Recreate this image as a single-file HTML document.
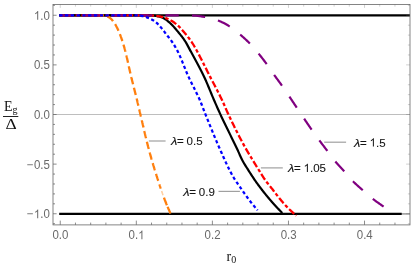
<!DOCTYPE html>
<html><head><meta charset="utf-8"><title>plot</title>
<style>
html,body{margin:0;padding:0;background:#fff;}
body{width:415px;height:267px;overflow:hidden;font-family:"Liberation Sans",sans-serif;}
svg{display:block;will-change:transform;}
text{font-family:"Liberation Sans",sans-serif;}
.ser text{font-family:"Liberation Serif",serif;}
</style></head><body>
<svg width="415" height="267" viewBox="0 0 415 267">
<rect x="0" y="0" width="415" height="267" fill="#ffffff"/>
<defs><clipPath id="co"><rect x="98" y="0" width="200" height="267"/></clipPath><clipPath id="cp"><rect x="53.0" y="4.5" width="357.0" height="220.4"/></clipPath></defs>
<!-- zero and -1 gray lines -->
<g stroke="#bebebe" stroke-width="1" fill="none">
<line x1="53.0" y1="114.5" x2="410.0" y2="114.5"/>
<line x1="401" y1="213.9" x2="410.0" y2="213.9" stroke="#a0a0a0" stroke-width="1.6"/>
</g>
<g clip-path="url(#cp)" fill="none" stroke-linecap="butt" stroke-linejoin="round">
<line x1="59.2" y1="15.4" x2="410.0" y2="15.4" stroke="#000" stroke-width="2.3"/>
<line x1="59.2" y1="213.9" x2="401.7" y2="213.9" stroke="#000" stroke-width="2.3"/>
<path d="M59.20 15.40 L142.00 15.30 L142.84 15.30 L143.69 15.31 L144.53 15.31 L145.38 15.32 L146.22 15.33 L147.06 15.34 L147.91 15.36 L148.75 15.37 L149.59 15.39 L150.43 15.41 L151.28 15.45 L152.12 15.51 L152.96 15.58 L153.80 15.67 L154.64 15.76 L155.47 15.86 L156.31 15.99 L157.15 16.14 L157.99 16.32 L158.82 16.53 L159.65 16.75 L160.46 16.99 L161.26 17.25 L162.04 17.53 L162.79 17.82 L163.53 18.16 L164.26 18.55 L164.98 18.99 L165.69 19.46 L166.38 19.97 L167.07 20.50 L167.74 21.05 L168.40 21.61 L169.05 22.17 L169.69 22.73 L170.31 23.27 L170.92 23.84 L171.53 24.42 L172.12 25.01 L172.70 25.62 L173.27 26.25 L173.84 26.88 L174.40 27.52 L174.95 28.16 L175.50 28.81 L176.05 29.46 L176.59 30.11 L177.13 30.76 L177.67 31.41 L178.21 32.05 L178.75 32.70 L179.29 33.36 L179.83 34.01 L180.36 34.67 L180.89 35.33 L181.41 36.00 L181.93 36.67 L182.44 37.34 L182.94 38.02 L183.44 38.70 L183.92 39.39 L184.39 40.08 L184.86 40.78 L185.31 41.49 L185.75 42.20 L186.18 42.92 L186.60 43.65 L187.01 44.39 L187.41 45.13 L187.81 45.88 L188.21 46.63 L188.60 47.37 L189.00 48.12 L189.39 48.87 L189.79 49.61 L190.19 50.36 L190.60 51.10 L191.00 51.84 L191.41 52.58 L191.81 53.32 L192.22 54.06 L192.63 54.80 L193.03 55.53 L193.44 56.27 L193.85 57.01 L194.25 57.75 L194.66 58.50 L195.06 59.24 L195.47 59.98 L195.87 60.72 L196.28 61.46 L196.68 62.20 L197.08 62.94 L197.48 63.69 L197.88 64.43 L198.28 65.18 L198.67 65.92 L199.07 66.67 L199.46 67.41 L199.85 68.16 L200.24 68.91 L200.62 69.66 L201.01 70.41 L201.39 71.16 L201.77 71.91 L202.14 72.67 L202.52 73.42 L202.89 74.18 L203.25 74.93 L203.62 75.69 L203.98 76.45 L204.33 77.22 L204.69 77.98 L205.04 78.75 L205.38 79.51 L205.72 80.28 L206.06 81.05 L206.40 81.83 L206.73 82.60 L207.06 83.38 L207.39 84.15 L207.72 84.93 L208.05 85.71 L208.37 86.49 L208.69 87.27 L209.02 88.05 L209.34 88.83 L209.66 89.61 L209.98 90.39 L210.30 91.17 L210.62 91.95 L210.94 92.73 L211.26 93.51 L211.59 94.29 L211.91 95.07 L212.23 95.85 L212.56 96.63 L212.89 97.41 L213.22 98.18 L213.55 98.96 L213.88 99.73 L214.22 100.51 L214.56 101.28 L214.89 102.05 L215.23 102.82 L215.57 103.60 L215.91 104.37 L216.25 105.14 L216.59 105.91 L216.93 106.69 L217.27 107.46 L217.61 108.23 L217.95 109.00 L218.30 109.77 L218.64 110.54 L218.99 111.31 L219.34 112.07 L219.69 112.84 L220.04 113.61 L220.39 114.38 L220.74 115.14 L221.10 115.91 L221.45 116.67 L221.81 117.43 L222.17 118.20 L222.53 118.96 L222.89 119.72 L223.25 120.48 L223.62 121.24 L223.98 122.00 L224.35 122.76 L224.72 123.52 L225.08 124.28 L225.45 125.04 L225.82 125.80 L226.19 126.55 L226.56 127.31 L226.93 128.07 L227.30 128.83 L227.67 129.58 L228.05 130.34 L228.42 131.10 L228.79 131.86 L229.16 132.61 L229.54 133.37 L229.91 134.13 L230.28 134.88 L230.65 135.64 L231.03 136.40 L231.40 137.15 L231.77 137.91 L232.14 138.67 L232.51 139.42 L232.88 140.18 L233.25 140.94 L233.62 141.70 L233.99 142.46 L234.36 143.21 L234.73 143.97 L235.09 144.73 L235.46 145.49 L235.82 146.25 L236.19 147.01 L236.55 147.78 L236.91 148.54 L237.27 149.30 L237.63 150.06 L237.98 150.83 L238.33 151.60 L238.68 152.37 L239.02 153.14 L239.36 153.92 L239.70 154.69 L240.04 155.46 L240.39 156.23 L240.74 157.00 L241.09 157.76 L241.46 158.52 L241.83 159.28 L242.21 160.02 L242.61 160.76 L243.01 161.50 L243.42 162.23 L243.85 162.96 L244.28 163.69 L244.71 164.41 L245.15 165.13 L245.60 165.85 L246.05 166.57 L246.50 167.28 L246.95 167.99 L247.41 168.71 L247.86 169.42 L248.32 170.13 L248.77 170.84 L249.22 171.55 L249.68 172.26 L250.13 172.97 L250.58 173.68 L251.04 174.39 L251.50 175.10 L251.96 175.81 L252.42 176.52 L252.88 177.22 L253.35 177.93 L253.82 178.63 L254.29 179.33 L254.77 180.02 L255.24 180.72 L255.73 181.41 L256.21 182.10 L256.70 182.78 L257.19 183.46 L257.69 184.14 L258.19 184.82 L258.69 185.50 L259.19 186.18 L259.70 186.86 L260.20 187.53 L260.71 188.20 L261.23 188.87 L261.74 189.54 L262.26 190.21 L262.78 190.88 L263.30 191.54 L263.82 192.20 L264.35 192.86 L264.88 193.52 L265.41 194.18 L265.94 194.83 L266.48 195.49 L267.01 196.14 L267.55 196.79 L268.09 197.44 L268.63 198.08 L269.17 198.73 L269.72 199.37 L270.26 200.01 L270.81 200.65 L271.36 201.28 L271.92 201.92 L272.47 202.55 L273.03 203.18 L273.60 203.81 L274.16 204.43 L274.73 205.06 L275.30 205.68 L275.87 206.30 L276.44 206.92 L277.02 207.53 L277.60 208.15 L278.18 208.76 L278.76 209.37 L279.34 209.98 L279.93 210.59 L280.52 211.19 L281.11 211.80 L281.70 212.40 L282.30 213.00" stroke="#000" stroke-width="2.2"/>
<path clip-path="url(#co)" d="M59.20 15.40 L96.00 15.30 L96.37 15.30 L96.74 15.30 L97.11 15.30 L97.48 15.31 L97.85 15.31 L98.21 15.31 L98.58 15.32 L98.95 15.33 L99.32 15.33 L99.68 15.34 L100.05 15.35 L100.42 15.36 L100.78 15.36 L101.15 15.37 L101.52 15.39 L101.88 15.40 L102.25 15.41 L102.62 15.43 L102.99 15.47 L103.36 15.51 L103.72 15.56 L104.09 15.61 L104.46 15.68 L104.82 15.75 L105.18 15.82 L105.54 15.89 L105.89 15.97 L106.23 16.06 L106.58 16.16 L106.93 16.29 L107.28 16.43 L107.62 16.58 L107.97 16.74 L108.30 16.92 L108.63 17.11 L108.95 17.30 L109.27 17.50 L109.57 17.70 L109.86 17.90 L110.14 18.11 L110.42 18.32 L110.69 18.55 L110.95 18.79 L111.21 19.04 L111.47 19.30 L111.73 19.56 L111.97 19.84 L112.22 20.12 L112.46 20.41 L112.70 20.70 L112.93 21.00 L113.16 21.30 L113.39 21.61 L113.61 21.92 L113.83 22.23 L114.04 22.54 L114.25 22.85 L114.46 23.16 L114.66 23.47 L114.86 23.78 L115.05 24.08 L115.24 24.39 L115.43 24.70 L115.62 25.01 L115.80 25.33 L115.98 25.64 L116.16 25.97 L116.33 26.29 L116.51 26.61 L116.67 26.94 L116.84 27.27 L117.01 27.60 L117.17 27.94 L117.33 28.27 L117.49 28.61 L117.65 28.94 L117.80 29.28 L117.95 29.62 L118.11 29.95 L118.26 30.29 L118.41 30.63 L118.55 30.97 L118.70 31.31 L118.85 31.64 L118.99 31.98 L119.14 32.32 L119.28 32.66 L119.42 33.00 L119.56 33.33 L119.70 33.68 L119.83 34.02 L119.97 34.36 L120.10 34.70 L120.23 35.05 L120.36 35.39 L120.49 35.73 L120.62 36.08 L120.75 36.42 L120.88 36.77 L121.00 37.12 L121.13 37.46 L121.25 37.81 L121.37 38.16 L121.49 38.51 L121.61 38.85 L121.73 39.20 L121.85 39.55 L121.97 39.90 L122.08 40.25 L122.20 40.59 L122.31 40.94 L122.43 41.29 L122.54 41.64 L122.65 41.99 L122.76 42.34 L122.88 42.69 L122.99 43.04 L123.10 43.40 L123.20 43.75 L123.31 44.10 L123.42 44.45 L123.53 44.80 L123.63 45.16 L123.74 45.51 L123.84 45.86 L123.94 46.21 L124.05 46.57 L124.15 46.92 L124.25 47.28 L124.35 47.63 L124.45 47.98 L124.55 48.34 L124.65 48.69 L124.74 49.05 L124.84 49.40 L124.93 49.76 L125.03 50.11 L125.12 50.47 L125.22 50.82 L125.31 51.18 L125.40 51.53 L125.49 51.89 L125.58 52.24 L125.67 52.60 L125.76 52.96 L125.85 53.31 L125.94 53.67 L126.03 54.03 L126.11 54.38 L126.20 54.74 L126.28 55.10 L126.37 55.45 L126.45 55.81 L126.54 56.17 L126.62 56.53 L126.71 56.88 L126.79 57.24 L126.87 57.60 L126.96 57.96 L127.04 58.32 L127.12 58.68 L127.20 59.03 L127.28 59.39 L127.36 59.75 L127.44 60.11 L127.52 60.47 L127.60 60.83 L127.68 61.19 L127.76 61.55 L127.84 61.91 L127.92 62.27 L128.00 62.62 L128.08 62.98 L128.16 63.34 L128.24 63.70 L128.32 64.06 L128.39 64.42 L128.47 64.78 L128.55 65.14 L128.63 65.50 L128.71 65.86 L128.79 66.22 L128.87 66.58 L128.94 66.94 L129.02 67.30 L129.10 67.66 L129.18 68.02 L129.26 68.38 L129.34 68.74 L129.42 69.09 L129.50 69.45 L129.58 69.81 L129.66 70.17 L129.74 70.53 L129.82 70.89 L129.90 71.25 L129.98 71.61 L130.06 71.97 L130.14 72.33 L130.22 72.68 L130.31 73.04 L130.39 73.40 L130.47 73.76 L130.55 74.12 L130.64 74.48 L130.72 74.83 L130.81 75.19 L130.89 75.55 L130.98 75.91 L131.06 76.26 L131.15 76.62 L131.24 76.98 L131.32 77.34 L131.41 77.69 L131.50 78.05 L131.58 78.41 L131.67 78.76 L131.76 79.12 L131.85 79.48 L131.94 79.84 L132.02 80.19 L132.11 80.55 L132.20 80.91 L132.29 81.26 L132.38 81.62 L132.47 81.98 L132.56 82.33 L132.65 82.69 L132.74 83.05 L132.83 83.40 L132.92 83.76 L133.01 84.12 L133.10 84.47 L133.19 84.83 L133.28 85.18 L133.37 85.54 L133.46 85.90 L133.55 86.25 L133.64 86.61 L133.73 86.97 L133.82 87.32 L133.91 87.68 L134.00 88.04 L134.09 88.39 L134.18 88.75 L134.27 89.10 L134.37 89.46 L134.46 89.82 L134.55 90.17 L134.64 90.53 L134.73 90.89 L134.82 91.24 L134.91 91.60 L135.00 91.96 L135.09 92.31 L135.18 92.67 L135.27 93.02 L135.36 93.38 L135.45 93.74 L135.54 94.09 L135.63 94.45 L135.72 94.81 L135.81 95.16 L135.90 95.52 L135.99 95.88 L136.07 96.23 L136.16 96.59 L136.25 96.95 L136.34 97.31 L136.43 97.66 L136.52 98.02 L136.60 98.38 L136.69 98.73 L136.78 99.09 L136.87 99.45 L136.95 99.80 L137.04 100.16 L137.13 100.52 L137.21 100.88 L137.30 101.23 L137.38 101.59 L137.47 101.95 L137.55 102.31 L137.64 102.66 L137.72 103.02 L137.81 103.38 L137.89 103.74 L137.98 104.10 L138.06 104.45 L138.15 104.81 L138.23 105.17 L138.32 105.53 L138.40 105.89 L138.48 106.24 L138.57 106.60 L138.65 106.96 L138.73 107.32 L138.82 107.68 L138.90 108.03 L138.99 108.39 L139.07 108.75 L139.15 109.11 L139.24 109.47 L139.32 109.82 L139.40 110.18 L139.49 110.54 L139.57 110.90 L139.66 111.26 L139.74 111.61 L139.82 111.97 L139.91 112.33 L139.99 112.69 L140.08 113.04 L140.16 113.40 L140.25 113.76 L140.33 114.12 L140.42 114.48 L140.50 114.83 L140.59 115.19 L140.67 115.55 L140.76 115.91 L140.84 116.26 L140.93 116.62 L141.01 116.98 L141.10 117.34 L141.18 117.70 L141.26 118.05 L141.35 118.41 L141.43 118.77 L141.52 119.13 L141.60 119.49 L141.68 119.84 L141.77 120.20 L141.85 120.56 L141.94 120.92 L142.02 121.28 L142.10 121.63 L142.19 121.99 L142.27 122.35 L142.35 122.71 L142.44 123.07 L142.52 123.43 L142.60 123.78 L142.69 124.14 L142.77 124.50 L142.85 124.86 L142.94 125.22 L143.02 125.58 L143.10 125.93 L143.19 126.29 L143.27 126.65 L143.36 127.01 L143.44 127.37 L143.52 127.72 L143.61 128.08 L143.69 128.44 L143.77 128.80 L143.86 129.16 L143.94 129.52 L144.02 129.87 L144.11 130.23 L144.19 130.59 L144.28 130.95 L144.36 131.31 L144.45 131.66 L144.53 132.02 L144.61 132.38 L144.70 132.74 L144.78 133.10 L144.87 133.45 L144.95 133.81 L145.04 134.17 L145.12 134.53 L145.21 134.89 L145.29 135.24 L145.38 135.60 L145.46 135.96 L145.55 136.32 L145.64 136.67 L145.72 137.03 L145.81 137.39 L145.90 137.75 L145.98 138.10 L146.07 138.46 L146.16 138.82 L146.24 139.17 L146.33 139.53 L146.42 139.89 L146.50 140.25 L146.59 140.60 L146.68 140.96 L146.77 141.32 L146.86 141.67 L146.95 142.03 L147.04 142.39 L147.12 142.74 L147.21 143.10 L147.30 143.46 L147.39 143.81 L147.48 144.17 L147.57 144.53 L147.66 144.88 L147.76 145.24 L147.85 145.59 L147.94 145.95 L148.03 146.31 L148.12 146.66 L148.21 147.02 L148.31 147.37 L148.40 147.73 L148.49 148.08 L148.59 148.44 L148.68 148.79 L148.77 149.15 L148.87 149.50 L148.96 149.86 L149.06 150.21 L149.15 150.57 L149.25 150.92 L149.34 151.28 L149.44 151.63 L149.54 151.99 L149.63 152.34 L149.73 152.70 L149.83 153.05 L149.93 153.40 L150.02 153.76 L150.12 154.11 L150.22 154.47 L150.32 154.82 L150.42 155.18 L150.52 155.53 L150.62 155.88 L150.72 156.24 L150.82 156.59 L150.92 156.94 L151.02 157.30 L151.12 157.65 L151.22 158.01 L151.32 158.36 L151.42 158.71 L151.52 159.07 L151.63 159.42 L151.73 159.77 L151.83 160.13 L151.93 160.48 L152.04 160.83 L152.14 161.18 L152.24 161.54 L152.35 161.89 L152.45 162.24 L152.56 162.60 L152.66 162.95 L152.77 163.30 L152.87 163.65 L152.98 164.01 L153.08 164.36 L153.19 164.71 L153.29 165.06 L153.40 165.42 L153.50 165.77 L153.61 166.12 L153.72 166.47 L153.82 166.82 L153.93 167.18 L154.04 167.53 L154.15 167.88 L154.25 168.23 L154.36 168.58 L154.47 168.94 L154.58 169.29 L154.69 169.64 L154.79 169.99 L154.90 170.34 L155.01 170.69 L155.12 171.04 L155.23 171.40 L155.34 171.75 L155.45 172.10 L155.56 172.45 L155.67 172.80 L155.78 173.15 L155.89 173.50 L156.00 173.85 L156.11 174.20 L156.22 174.55 L156.33 174.90 L156.44 175.25 L156.55 175.60 L156.67 175.95 L156.78 176.30 L156.89 176.65 L157.00 177.00 L157.11 177.35 L157.22 177.70 L157.34 178.05 L157.45 178.40 L157.56 178.75 L157.67 179.10 L157.79 179.45 L157.90 179.80 L158.01 180.15 L158.12 180.50 L158.24 180.85 L158.35 181.20 L158.46 181.55 L158.58 181.90 L158.69 182.25 L158.80 182.60 L158.92 182.95 L159.03 183.30 L159.15 183.65 L159.26 184.00 L159.38 184.35 L159.49 184.70 L159.61 185.05 L159.72 185.40 L159.84 185.75 L159.95 186.10 L160.07 186.45 L160.18 186.80 L160.30 187.15 L160.42 187.50 L160.53 187.85 L160.65 188.20 L160.77 188.55" stroke="#ff7f0e" stroke-width="2.3" stroke-dasharray="7.45 3.65" stroke-dashoffset="7.2"/>
<path d="M163.94 197.57 L164.06 197.91 L164.19 198.26 L164.32 198.60 L164.45 198.95 L164.58 199.29 L164.70 199.64 L164.83 199.98 L164.96 200.32 L165.10 200.67 L165.23 201.01 L165.36 201.35 L165.49 201.69 L165.62 202.04 L165.76 202.38 L165.89 202.72 L166.02 203.06 L166.16 203.40 L166.30 203.74 L166.43 204.08 L166.57 204.42 L166.71 204.76 L166.85 205.10 L166.99 205.44 L167.14 205.78 L167.28 206.12 L167.42 206.46 L167.57 206.79 L167.71 207.13 L167.86 207.47 L168.01 207.80 L168.16 208.14 L168.31 208.48 L168.45 208.81 L168.61 209.15 L168.76 209.49 L168.91 209.82 L169.06 210.16 L169.21 210.49 L169.36 210.83 L169.52 211.16 L169.67 211.50 L169.83 211.83 L169.98 212.16 L170.13 212.50 L170.29 212.83 L170.44 213.17 L170.60 213.50" stroke="#ff7f0e" stroke-width="2.3" stroke-dasharray="8.2 1.7"/>
<path d="M161.60 190.98 L161.72 191.33 L161.84 191.68 L161.96 192.03 L162.08 192.38 L162.20 192.72 L162.32 193.07 L162.44 193.42 L162.57 193.76 L162.69 194.11 L162.81 194.46 L162.94 194.80 L163.06 195.15" stroke="#ffcfa0" stroke-width="1.6"/>
<path d="M59.20 15.40 L146.00 15.30 L146.87 15.31 L147.74 15.33 L148.61 15.36 L149.48 15.40 L150.35 15.45 L151.22 15.50 L152.08 15.56 L152.95 15.63 L153.81 15.70 L154.68 15.77 L155.54 15.85 L156.41 15.94 L157.27 16.05 L158.14 16.17 L159.00 16.31 L159.86 16.46 L160.72 16.62 L161.56 16.79 L162.40 16.98 L163.23 17.19 L164.06 17.43 L164.89 17.71 L165.71 18.02 L166.53 18.35 L167.33 18.70 L168.13 19.07 L168.91 19.45 L169.68 19.84 L170.44 20.23 L171.20 20.65 L171.94 21.10 L172.68 21.56 L173.41 22.05 L174.13 22.55 L174.84 23.07 L175.54 23.60 L176.23 24.14 L176.90 24.69 L177.55 25.25 L178.19 25.81 L178.82 26.40 L179.44 27.01 L180.05 27.63 L180.65 28.26 L181.24 28.91 L181.82 29.56 L182.39 30.22 L182.96 30.89 L183.53 31.55 L184.09 32.22 L184.65 32.88 L185.21 33.54 L185.77 34.21 L186.32 34.88 L186.87 35.56 L187.41 36.24 L187.95 36.92 L188.49 37.61 L189.02 38.30 L189.54 39.00 L190.05 39.70 L190.56 40.41 L191.06 41.12 L191.55 41.83 L192.03 42.55 L192.50 43.28 L192.96 44.01 L193.42 44.75 L193.86 45.50 L194.30 46.25 L194.73 47.01 L195.16 47.77 L195.58 48.53 L196.00 49.29 L196.43 50.05 L196.85 50.81 L197.26 51.57 L197.68 52.33 L198.09 53.09 L198.50 53.86 L198.90 54.63 L199.31 55.39 L199.71 56.16 L200.12 56.93 L200.51 57.70 L200.91 58.48 L201.31 59.25 L201.71 60.02 L202.10 60.80 L202.49 61.57 L202.88 62.35 L203.28 63.12 L203.67 63.90 L204.06 64.68 L204.45 65.46 L204.83 66.23 L205.22 67.01 L205.61 67.79 L206.00 68.57 L206.39 69.34 L206.78 70.12 L207.17 70.90 L207.56 71.68 L207.95 72.45 L208.34 73.23 L208.73 74.00 L209.12 74.78 L209.52 75.55 L209.91 76.33 L210.31 77.10 L210.71 77.87 L211.10 78.65 L211.50 79.42 L211.91 80.19 L212.31 80.96 L212.71 81.73 L213.11 82.50 L213.51 83.27 L213.92 84.04 L214.32 84.81 L214.72 85.58 L215.13 86.35 L215.53 87.12 L215.93 87.89 L216.33 88.66 L216.73 89.44 L217.13 90.21 L217.53 90.98 L217.92 91.75 L218.32 92.53 L218.71 93.30 L219.10 94.08 L219.49 94.85 L219.88 95.63 L220.27 96.41 L220.65 97.19 L221.03 97.97 L221.40 98.75 L221.78 99.53 L222.15 100.32 L222.52 101.11 L222.88 101.90 L223.23 102.69 L223.59 103.48 L223.94 104.28 L224.28 105.07 L224.63 105.87 L224.97 106.67 L225.32 107.47 L225.66 108.27 L226.01 109.06 L226.35 109.86 L226.70 110.66 L227.05 111.45 L227.41 112.25 L227.77 113.04 L228.13 113.83 L228.50 114.61 L228.87 115.40 L229.24 116.18 L229.61 116.97 L229.99 117.75 L230.36 118.53 L230.74 119.32 L231.11 120.10 L231.49 120.88 L231.87 121.67 L232.25 122.45 L232.63 123.23 L233.01 124.01 L233.39 124.79 L233.77 125.58 L234.16 126.36 L234.54 127.14 L234.93 127.91 L235.32 128.69 L235.70 129.47 L236.09 130.25 L236.49 131.03 L236.88 131.80 L237.27 132.58 L237.67 133.35 L238.06 134.13 L238.46 134.90 L238.86 135.67 L239.26 136.45 L239.66 137.22 L240.06 137.99 L240.47 138.76 L240.87 139.53 L241.28 140.29 L241.69 141.06 L242.10 141.83 L242.51 142.59 L242.92 143.36 L243.34 144.12 L243.75 144.88 L244.17 145.64 L244.59 146.40 L245.01 147.16 L245.43 147.92 L245.85 148.68 L246.28 149.43 L246.71 150.19 L247.14 150.94 L247.58 151.69 L248.02 152.43 L248.47 153.18 L248.93 153.92 L249.38 154.66 L249.84 155.40 L250.30 156.13 L250.76 156.87 L251.22 157.61 L251.68 158.35 L252.14 159.09 L252.59 159.83 L253.05 160.57 L253.50 161.31 L253.94 162.06 L254.39 162.80 L254.84 163.55 L255.29 164.29 L255.73 165.04 L256.18 165.78 L256.63 166.53 L257.08 167.27 L257.53 168.01 L257.98 168.75 L258.44 169.49 L258.90 170.23 L259.36 170.97 L259.82 171.71 L260.28 172.44 L260.74 173.18 L261.20 173.92 L261.66 174.65 L262.13 175.39 L262.60 176.12 L263.07 176.85 L263.55 177.58 L264.03 178.30 L264.52 179.02 L265.01 179.73 L265.51 180.44 L266.02 181.14 L266.54 181.83 L267.06 182.52 L267.60 183.21 L268.13 183.90 L268.67 184.58 L269.21 185.26 L269.76 185.94 L270.30 186.61 L270.85 187.29 L271.39 187.97 L271.94 188.65 L272.48 189.33 L273.01 190.01 L273.54 190.70 L274.07 191.39 L274.60 192.08 L275.13 192.77 L275.65 193.46 L276.18 194.16 L276.71 194.85 L277.24 195.54 L277.77 196.22 L278.31 196.91 L278.85 197.59 L279.39 198.26 L279.94 198.93 L280.50 199.60 L281.06 200.27 L281.62 200.93 L282.18 201.60 L282.74 202.26 L283.31 202.92 L283.89 203.57 L284.46 204.22 L285.04 204.87 L285.63 205.51 L286.22 206.15 L286.82 206.78 L287.42 207.41 L288.02 208.02 L288.64 208.63 L289.25 209.24 L289.88 209.84 L290.51 210.44 L291.14 211.03 L291.78 211.62 L292.43 212.21 L293.08 212.78 L293.73 213.36 L294.39 213.93 L295.06 214.49 L295.73 215.05 L296.40 215.60" stroke="#ff0000" stroke-width="2.3" stroke-dasharray="6.9 2.32 3.45 2.32" stroke-dashoffset="7.8"/>
<path d="M59.20 15.40 L170.00 15.30 L171.01 15.30 L172.02 15.30 L173.02 15.30 L174.03 15.31 L175.04 15.31 L176.05 15.32 L177.06 15.32 L178.06 15.33 L179.07 15.33 L180.08 15.34 L181.09 15.34 L182.10 15.35 L183.10 15.36 L184.11 15.37 L185.12 15.38 L186.13 15.39 L187.14 15.40 L188.15 15.42 L189.16 15.44 L190.16 15.46 L191.17 15.48 L192.18 15.50 L193.18 15.54 L194.19 15.60 L195.19 15.68 L196.20 15.77 L197.21 15.87 L198.21 15.99 L199.21 16.12 L200.22 16.26 L201.22 16.40 L202.21 16.56 L203.21 16.71 L204.20 16.87 L205.19 17.03 L206.18 17.20 L207.17 17.40 L208.16 17.61 L209.14 17.83 L210.13 18.07 L211.11 18.33 L212.09 18.60 L213.07 18.88 L214.04 19.18 L215.00 19.48 L215.96 19.79 L216.91 20.12 L217.85 20.45 L218.78 20.79 L219.71 21.16 L220.64 21.55 L221.56 21.96 L222.47 22.40 L223.39 22.85 L224.29 23.32 L225.19 23.80 L226.07 24.30 L226.95 24.81 L227.83 25.32 L228.69 25.84 L229.54 26.36 L230.38 26.90 L231.21 27.45 L232.03 28.03 L232.84 28.62 L233.65 29.23 L234.45 29.85 L235.24 30.48 L236.03 31.12 L236.81 31.76 L237.59 32.41 L238.36 33.07 L239.14 33.72 L239.90 34.38 L240.67 35.03 L241.44 35.69 L242.20 36.35 L242.96 37.01 L243.71 37.68 L244.46 38.36 L245.21 39.04 L245.95 39.73 L246.68 40.42 L247.41 41.12 L248.13 41.82 L248.85 42.53 L249.55 43.25 L250.25 43.97 L250.94 44.70 L251.63 45.44 L252.30 46.18 L252.98 46.93 L253.64 47.69 L254.30 48.45 L254.96 49.22 L255.61 49.99 L256.26 50.77 L256.91 51.54 L257.55 52.32 L258.19 53.10 L258.83 53.88 L259.46 54.66 L260.09 55.45 L260.72 56.24 L261.34 57.03 L261.96 57.82 L262.58 58.62 L263.19 59.42 L263.80 60.23 L264.41 61.03 L265.01 61.84 L265.61 62.65 L266.21 63.46 L266.80 64.28 L267.39 65.10 L267.97 65.92 L268.55 66.75 L269.12 67.58 L269.69 68.41 L270.25 69.24 L270.82 70.08 L271.38 70.92 L271.95 71.75 L272.52 72.58 L273.09 73.41 L273.66 74.24 L274.25 75.06 L274.83 75.88 L275.42 76.70 L276.02 77.51 L276.62 78.33 L277.22 79.14 L277.82 79.95 L278.42 80.76 L279.02 81.57 L279.61 82.38 L280.21 83.19 L280.80 84.01 L281.38 84.83 L281.96 85.66 L282.54 86.48 L283.11 87.31 L283.68 88.14 L284.25 88.97 L284.82 89.81 L285.39 90.64 L285.95 91.48 L286.52 92.31 L287.08 93.15 L287.64 93.98 L288.20 94.82 L288.77 95.66 L289.33 96.49 L289.89 97.33 L290.45 98.17 L291.01 99.00 L291.57 99.84 L292.13 100.68 L292.69 101.52 L293.25 102.36 L293.81 103.20 L294.37 104.04 L294.92 104.88 L295.48 105.72 L296.04 106.56 L296.60 107.40 L297.16 108.24 L297.72 109.08 L298.27 109.91 L298.83 110.75 L299.39 111.59 L299.95 112.43 L300.50 113.27 L301.06 114.11 L301.62 114.95 L302.18 115.79 L302.74 116.63 L303.30 117.47 L303.86 118.30 L304.43 119.14 L304.99 119.97 L305.56 120.81 L306.12 121.64 L306.69 122.48 L307.26 123.31 L307.82 124.14 L308.39 124.98 L308.96 125.81 L309.54 126.64 L310.11 127.47 L310.69 128.29 L311.26 129.12 L311.84 129.94 L312.42 130.77 L313.01 131.59 L313.59 132.41 L314.18 133.23 L314.77 134.05 L315.36 134.87 L315.95 135.68 L316.54 136.50 L317.13 137.31 L317.73 138.13 L318.32 138.94 L318.92 139.75 L319.52 140.56 L320.12 141.37 L320.72 142.18 L321.33 142.99 L321.93 143.79 L322.54 144.60 L323.15 145.40 L323.76 146.21 L324.37 147.01 L324.98 147.81 L325.59 148.61 L326.20 149.42 L326.81 150.22 L327.42 151.02 L328.02 151.83 L328.63 152.64 L329.23 153.45 L329.82 154.26 L330.42 155.07 L331.02 155.89 L331.62 156.70 L332.23 157.51 L332.83 158.31 L333.45 159.11 L334.07 159.90 L334.69 160.69 L335.33 161.47 L335.97 162.24 L336.63 163.00 L337.30 163.76 L337.97 164.50 L338.66 165.24 L339.34 165.98 L340.04 166.72 L340.73 167.45 L341.42 168.18 L342.12 168.92 L342.81 169.65 L343.49 170.40 L344.17 171.14 L344.84 171.90 L345.50 172.66 L346.16 173.42 L346.81 174.20 L347.45 174.97 L348.10 175.75 L348.75 176.52 L349.40 177.30 L350.05 178.06 L350.72 178.82 L351.38 179.58 L352.06 180.32 L352.75 181.05 L353.46 181.76 L354.17 182.47 L354.90 183.16 L355.63 183.85 L356.37 184.54 L357.12 185.21 L357.87 185.88 L358.63 186.55 L359.39 187.22 L360.15 187.88 L360.91 188.55 L361.67 189.21 L362.43 189.88 L363.19 190.54 L363.94 191.21 L364.69 191.89 L365.45 192.56 L366.20 193.23 L366.96 193.90 L367.71 194.57 L368.47 195.23 L369.24 195.89 L370.00 196.55 L370.77 197.19 L371.55 197.84 L372.33 198.47 L373.12 199.09 L373.91 199.71 L374.72 200.31 L375.53 200.91 L376.34 201.51 L377.16 202.09 L377.98 202.68 L378.81 203.26 L379.64 203.84 L380.47 204.41 L381.29 204.99 L382.12 205.56 L382.95 206.14 L383.77 206.72 L384.60 207.30" stroke="#800080" stroke-width="2.2" stroke-dasharray="13.25 13.25" stroke-dashoffset="-0.3"/>
<path d="M59.20 15.40 L130.00 15.30 L130.81 15.30 L131.63 15.31 L132.44 15.32 L133.25 15.34 L134.06 15.36 L134.88 15.38 L135.68 15.41 L136.49 15.44 L137.30 15.47 L138.11 15.51 L138.92 15.56 L139.72 15.65 L140.53 15.76 L141.34 15.89 L142.14 16.03 L142.93 16.19 L143.71 16.36 L144.50 16.56 L145.28 16.79 L146.05 17.05 L146.82 17.33 L147.59 17.62 L148.34 17.93 L149.08 18.23 L149.82 18.56 L150.56 18.90 L151.30 19.26 L152.03 19.65 L152.74 20.05 L153.45 20.46 L154.13 20.90 L154.79 21.35 L155.42 21.82 L156.04 22.32 L156.65 22.85 L157.24 23.40 L157.82 23.98 L158.38 24.57 L158.94 25.18 L159.49 25.79 L160.04 26.40 L160.58 27.02 L161.11 27.63 L161.63 28.24 L162.15 28.87 L162.65 29.50 L163.14 30.14 L163.63 30.79 L164.12 31.44 L164.61 32.09 L165.09 32.75 L165.58 33.39 L166.08 34.04 L166.58 34.68 L167.08 35.31 L167.59 35.95 L168.10 36.58 L168.61 37.21 L169.12 37.84 L169.63 38.48 L170.12 39.12 L170.61 39.77 L171.09 40.42 L171.56 41.08 L172.01 41.75 L172.46 42.42 L172.91 43.10 L173.36 43.78 L173.79 44.46 L174.23 45.15 L174.65 45.85 L175.07 46.55 L175.48 47.25 L175.89 47.95 L176.28 48.66 L176.67 49.37 L177.04 50.08 L177.41 50.80 L177.77 51.52 L178.13 52.24 L178.48 52.97 L178.82 53.70 L179.16 54.43 L179.50 55.17 L179.83 55.91 L180.16 56.65 L180.48 57.39 L180.80 58.13 L181.11 58.88 L181.43 59.63 L181.74 60.38 L182.05 61.13 L182.35 61.89 L182.66 62.64 L182.96 63.40 L183.26 64.15 L183.57 64.91 L183.87 65.66 L184.17 66.42 L184.47 67.17 L184.77 67.93 L185.08 68.69 L185.38 69.44 L185.69 70.19 L186.00 70.95 L186.31 71.70 L186.63 72.45 L186.94 73.19 L187.26 73.94 L187.59 74.68 L187.92 75.43 L188.25 76.17 L188.59 76.90 L188.93 77.64 L189.27 78.37 L189.62 79.11 L189.97 79.84 L190.32 80.57 L190.68 81.30 L191.04 82.02 L191.40 82.75 L191.76 83.48 L192.13 84.20 L192.49 84.93 L192.86 85.65 L193.22 86.38 L193.59 87.10 L193.96 87.83 L194.32 88.55 L194.69 89.28 L195.06 90.00 L195.42 90.73 L195.78 91.45 L196.14 92.18 L196.50 92.91 L196.86 93.64 L197.21 94.37 L197.56 95.10 L197.91 95.83 L198.25 96.56 L198.59 97.30 L198.93 98.03 L199.26 98.77 L199.59 99.51 L199.91 100.26 L200.23 101.00 L200.54 101.75 L200.85 102.50 L201.15 103.25 L201.45 104.00 L201.75 104.76 L202.05 105.51 L202.34 106.27 L202.63 107.02 L202.92 107.78 L203.21 108.54 L203.51 109.30 L203.80 110.06 L204.09 110.81 L204.38 111.57 L204.68 112.33 L204.97 113.08 L205.27 113.84 L205.58 114.59 L205.88 115.34 L206.18 116.09 L206.49 116.84 L206.79 117.60 L207.09 118.35 L207.40 119.10 L207.70 119.85 L208.00 120.61 L208.31 121.36 L208.61 122.11 L208.91 122.86 L209.22 123.62 L209.52 124.37 L209.83 125.12 L210.13 125.87 L210.44 126.62 L210.74 127.38 L211.05 128.13 L211.35 128.88 L211.66 129.63 L211.97 130.38 L212.27 131.13 L212.58 131.88 L212.89 132.63 L213.20 133.39 L213.51 134.14 L213.82 134.88 L214.13 135.63 L214.44 136.38 L214.75 137.13 L215.07 137.88 L215.38 138.63 L215.70 139.38 L216.01 140.12 L216.33 140.87 L216.64 141.62 L216.96 142.36 L217.28 143.11 L217.60 143.85 L217.92 144.60 L218.25 145.34 L218.57 146.08 L218.89 146.83 L219.22 147.57 L219.55 148.31 L219.88 149.05 L220.21 149.79 L220.54 150.53 L220.87 151.27 L221.20 152.01 L221.53 152.75 L221.86 153.50 L222.18 154.24 L222.51 154.98 L222.84 155.73 L223.18 156.47 L223.51 157.21 L223.84 157.96 L224.17 158.70 L224.51 159.44 L224.84 160.18 L225.18 160.92 L225.52 161.66 L225.85 162.40 L226.20 163.14 L226.54 163.88 L226.88 164.62 L227.23 165.35 L227.58 166.08 L227.93 166.82 L228.29 167.55 L228.65 168.28 L229.01 169.00 L229.37 169.73 L229.73 170.45 L230.10 171.17 L230.48 171.89 L230.85 172.60 L231.23 173.32 L231.62 174.03 L232.01 174.73 L232.40 175.44 L232.79 176.14 L233.20 176.84 L233.61 177.53 L234.03 178.22 L234.46 178.90 L234.90 179.59 L235.34 180.26 L235.79 180.94 L236.25 181.61 L236.71 182.28 L237.18 182.95 L237.64 183.62 L238.11 184.28 L238.57 184.95 L239.04 185.62 L239.50 186.28 L239.97 186.95 L240.42 187.62 L240.88 188.29 L241.34 188.96 L241.80 189.63 L242.26 190.29 L242.72 190.96 L243.18 191.63 L243.65 192.30 L244.11 192.96 L244.58 193.63 L245.04 194.29 L245.51 194.95 L245.99 195.61 L246.46 196.27 L246.94 196.93 L247.41 197.58 L247.90 198.23 L248.38 198.88 L248.87 199.53 L249.36 200.17 L249.86 200.81 L250.35 201.45 L250.85 202.09 L251.36 202.73 L251.86 203.36 L252.37 203.99 L252.88 204.62 L253.40 205.25 L253.91 205.87 L254.43 206.50 L254.95 207.12 L255.48 207.74 L256.01 208.36 L256.53 208.97 L257.07 209.59 L257.60 210.20" stroke="#0000ff" stroke-width="2.25" stroke-dasharray="3.27 2.52" stroke-dashoffset="0.0"/>
</g>
<!-- frame -->
<g stroke="#666666" stroke-width="0.8" fill="none">
<rect x="53.0" y="4.5" width="357.0" height="220.4"/>
</g>
<g stroke="#666666" stroke-width="0.75" fill="none">
<line x1="60.25" y1="224.90" x2="60.25" y2="220.60"/><line x1="75.46" y1="224.90" x2="75.46" y2="222.60"/><line x1="90.68" y1="224.90" x2="90.68" y2="222.60"/><line x1="105.89" y1="224.90" x2="105.89" y2="222.60"/><line x1="121.11" y1="224.90" x2="121.11" y2="222.60"/><line x1="136.32" y1="224.90" x2="136.32" y2="220.60"/><line x1="151.53" y1="224.90" x2="151.53" y2="222.60"/><line x1="166.75" y1="224.90" x2="166.75" y2="222.60"/><line x1="181.96" y1="224.90" x2="181.96" y2="222.60"/><line x1="197.18" y1="224.90" x2="197.18" y2="222.60"/><line x1="212.39" y1="224.90" x2="212.39" y2="220.60"/><line x1="227.60" y1="224.90" x2="227.60" y2="222.60"/><line x1="242.82" y1="224.90" x2="242.82" y2="222.60"/><line x1="258.03" y1="224.90" x2="258.03" y2="222.60"/><line x1="273.25" y1="224.90" x2="273.25" y2="222.60"/><line x1="288.46" y1="224.90" x2="288.46" y2="220.60"/><line x1="303.67" y1="224.90" x2="303.67" y2="222.60"/><line x1="318.89" y1="224.90" x2="318.89" y2="222.60"/><line x1="334.10" y1="224.90" x2="334.10" y2="222.60"/><line x1="349.32" y1="224.90" x2="349.32" y2="222.60"/><line x1="364.53" y1="224.90" x2="364.53" y2="220.60"/><line x1="379.74" y1="224.90" x2="379.74" y2="222.60"/><line x1="394.96" y1="224.90" x2="394.96" y2="222.60"/><line x1="53.00" y1="223.68" x2="55.00" y2="223.68"/><line x1="53.00" y1="213.75" x2="56.60" y2="213.75"/><line x1="53.00" y1="203.82" x2="55.00" y2="203.82"/><line x1="53.00" y1="193.90" x2="55.00" y2="193.90"/><line x1="53.00" y1="183.98" x2="55.00" y2="183.98"/><line x1="53.00" y1="174.05" x2="55.00" y2="174.05"/><line x1="53.00" y1="164.12" x2="56.60" y2="164.12"/><line x1="53.00" y1="154.20" x2="55.00" y2="154.20"/><line x1="53.00" y1="144.28" x2="55.00" y2="144.28"/><line x1="53.00" y1="134.35" x2="55.00" y2="134.35"/><line x1="53.00" y1="124.42" x2="55.00" y2="124.42"/><line x1="53.00" y1="114.50" x2="56.60" y2="114.50"/><line x1="53.00" y1="104.58" x2="55.00" y2="104.58"/><line x1="53.00" y1="94.65" x2="55.00" y2="94.65"/><line x1="53.00" y1="84.72" x2="55.00" y2="84.72"/><line x1="53.00" y1="74.80" x2="55.00" y2="74.80"/><line x1="53.00" y1="64.88" x2="56.60" y2="64.88"/><line x1="53.00" y1="54.95" x2="55.00" y2="54.95"/><line x1="53.00" y1="45.02" x2="55.00" y2="45.02"/><line x1="53.00" y1="35.10" x2="55.00" y2="35.10"/><line x1="53.00" y1="25.17" x2="55.00" y2="25.17"/><line x1="53.00" y1="15.25" x2="56.60" y2="15.25"/><line x1="53.00" y1="5.32" x2="55.00" y2="5.32"/>
</g>
<g stroke="#666666" stroke-width="0.3" fill="none">
<line x1="60.25" y1="4.50" x2="60.25" y2="7.90"/><line x1="75.46" y1="4.50" x2="75.46" y2="6.60"/><line x1="90.68" y1="4.50" x2="90.68" y2="6.60"/><line x1="105.89" y1="4.50" x2="105.89" y2="6.60"/><line x1="121.11" y1="4.50" x2="121.11" y2="6.60"/><line x1="136.32" y1="4.50" x2="136.32" y2="7.90"/><line x1="151.53" y1="4.50" x2="151.53" y2="6.60"/><line x1="166.75" y1="4.50" x2="166.75" y2="6.60"/><line x1="181.96" y1="4.50" x2="181.96" y2="6.60"/><line x1="197.18" y1="4.50" x2="197.18" y2="6.60"/><line x1="212.39" y1="4.50" x2="212.39" y2="7.90"/><line x1="227.60" y1="4.50" x2="227.60" y2="6.60"/><line x1="242.82" y1="4.50" x2="242.82" y2="6.60"/><line x1="258.03" y1="4.50" x2="258.03" y2="6.60"/><line x1="273.25" y1="4.50" x2="273.25" y2="6.60"/><line x1="288.46" y1="4.50" x2="288.46" y2="7.90"/><line x1="303.67" y1="4.50" x2="303.67" y2="6.60"/><line x1="318.89" y1="4.50" x2="318.89" y2="6.60"/><line x1="334.10" y1="4.50" x2="334.10" y2="6.60"/><line x1="349.32" y1="4.50" x2="349.32" y2="6.60"/><line x1="364.53" y1="4.50" x2="364.53" y2="7.90"/><line x1="379.74" y1="4.50" x2="379.74" y2="6.60"/><line x1="394.96" y1="4.50" x2="394.96" y2="6.60"/><line x1="410.00" y1="223.68" x2="407.90" y2="223.68"/><line x1="410.00" y1="213.75" x2="406.10" y2="213.75"/><line x1="410.00" y1="203.82" x2="407.90" y2="203.82"/><line x1="410.00" y1="193.90" x2="407.90" y2="193.90"/><line x1="410.00" y1="183.98" x2="407.90" y2="183.98"/><line x1="410.00" y1="174.05" x2="407.90" y2="174.05"/><line x1="410.00" y1="164.12" x2="406.10" y2="164.12"/><line x1="410.00" y1="154.20" x2="407.90" y2="154.20"/><line x1="410.00" y1="144.28" x2="407.90" y2="144.28"/><line x1="410.00" y1="134.35" x2="407.90" y2="134.35"/><line x1="410.00" y1="124.42" x2="407.90" y2="124.42"/><line x1="410.00" y1="114.50" x2="406.10" y2="114.50"/><line x1="410.00" y1="104.58" x2="407.90" y2="104.58"/><line x1="410.00" y1="94.65" x2="407.90" y2="94.65"/><line x1="410.00" y1="84.72" x2="407.90" y2="84.72"/><line x1="410.00" y1="74.80" x2="407.90" y2="74.80"/><line x1="410.00" y1="64.88" x2="406.10" y2="64.88"/><line x1="410.00" y1="54.95" x2="407.90" y2="54.95"/><line x1="410.00" y1="45.02" x2="407.90" y2="45.02"/><line x1="410.00" y1="35.10" x2="407.90" y2="35.10"/><line x1="410.00" y1="25.17" x2="407.90" y2="25.17"/><line x1="410.00" y1="15.25" x2="406.10" y2="15.25"/><line x1="410.00" y1="5.32" x2="407.90" y2="5.32"/>
</g>
<!-- callouts -->
<g stroke="#a0a0a0" stroke-width="1.2" fill="none">
<line x1="148.8" y1="141" x2="165.6" y2="141"/>
<line x1="218.5" y1="191.4" x2="239.9" y2="191.4"/>
<line x1="260.9" y1="167.9" x2="282.8" y2="167.9"/>
<line x1="324.2" y1="142.2" x2="346.1" y2="142.2"/>
</g>
<g font-size="11.5" fill="#151515" stroke="#151515" stroke-width="0.1">
<text transform="translate(171.00,145.00) scale(1.12,1)" font-style="italic">λ</text><text x="177.00" y="145.00">=</text><text transform="translate(186.60,145.00) scale(1,1.000)">0</text><text transform="translate(192.99,145.00) scale(1,1.000)">.</text><text transform="translate(196.19,145.00) scale(1,1.000)">5</text><text transform="translate(183.20,195.60) scale(1.12,1)" font-style="italic">λ</text><text x="189.20" y="195.60">=</text><text transform="translate(198.80,195.60) scale(1,1.000)">0</text><text transform="translate(205.19,195.60) scale(1,1.000)">.</text><text transform="translate(208.39,195.60) scale(1,1.000)">9</text><text transform="translate(288.00,171.90) scale(1.12,1)" font-style="italic">λ</text><text x="294.00" y="171.90">=</text><path d="M763 0L583 0L583 -1147Q518 -1085 412 -1023Q307 -961 223 -930L223 -1104Q374 -1175 487 -1276Q600 -1377 647 -1472L763 -1472Z" transform="translate(303.60,171.90) scale(0.00562,0.00562)" stroke="none"/><text transform="translate(309.99,171.90) scale(1,1.000)">.</text><text transform="translate(313.19,171.90) scale(1,1.000)">0</text><text transform="translate(319.58,171.90) scale(1,1.000)">5</text><text transform="translate(354.00,146.50) scale(1.12,1)" font-style="italic">λ</text><text x="360.00" y="146.50">=</text><path d="M763 0L583 0L583 -1147Q518 -1085 412 -1023Q307 -961 223 -930L223 -1104Q374 -1175 487 -1276Q600 -1377 647 -1472L763 -1472Z" transform="translate(369.60,146.50) scale(0.00562,0.00562)" stroke="none"/><text transform="translate(375.99,146.50) scale(1,1.000)">.</text><text transform="translate(379.19,146.50) scale(1,1.000)">5</text>
</g>
<g font-size="11.5" fill="#6a6a6a">
<text transform="translate(52.46,239.30) scale(1,1.050)">0</text><text transform="translate(58.85,239.30) scale(1,1.050)">.</text><text transform="translate(62.05,239.30) scale(1,1.050)">0</text><text transform="translate(128.53,239.30) scale(1,1.050)">0</text><text transform="translate(134.92,239.30) scale(1,1.050)">.</text><path d="M763 0L583 0L583 -1147Q518 -1085 412 -1023Q307 -961 223 -930L223 -1104Q374 -1175 487 -1276Q600 -1377 647 -1472L763 -1472Z" transform="translate(138.12,239.30) scale(0.00562,0.00590)" stroke="none"/><text transform="translate(204.60,239.30) scale(1,1.050)">0</text><text transform="translate(210.99,239.30) scale(1,1.050)">.</text><text transform="translate(214.19,239.30) scale(1,1.050)">2</text><text transform="translate(280.67,239.30) scale(1,1.050)">0</text><text transform="translate(287.06,239.30) scale(1,1.050)">.</text><text transform="translate(290.26,239.30) scale(1,1.050)">3</text><text transform="translate(356.74,239.30) scale(1,1.050)">0</text><text transform="translate(363.13,239.30) scale(1,1.050)">.</text><text transform="translate(366.33,239.30) scale(1,1.050)">4</text>
<path d="M763 0L583 0L583 -1147Q518 -1085 412 -1023Q307 -961 223 -930L223 -1104Q374 -1175 487 -1276Q600 -1377 647 -1472L763 -1472Z" transform="translate(33.91,19.75) scale(0.00562,0.00590)" stroke="none"/><text transform="translate(40.31,19.75) scale(1,1.050)">.</text><text transform="translate(43.51,19.75) scale(1,1.050)">0</text><text transform="translate(33.91,69.38) scale(1,1.050)">0</text><text transform="translate(40.31,69.38) scale(1,1.050)">.</text><text transform="translate(43.51,69.38) scale(1,1.050)">5</text><text transform="translate(33.91,119.00) scale(1,1.050)">0</text><text transform="translate(40.31,119.00) scale(1,1.050)">.</text><text transform="translate(43.51,119.00) scale(1,1.050)">0</text><text transform="translate(26.50,168.62) scale(1,1.050)">−</text><text transform="translate(33.91,168.62) scale(1,1.050)">0</text><text transform="translate(40.31,168.62) scale(1,1.050)">.</text><text transform="translate(43.51,168.62) scale(1,1.050)">5</text><text transform="translate(26.50,218.25) scale(1,1.050)">−</text><path d="M763 0L583 0L583 -1147Q518 -1085 412 -1023Q307 -961 223 -930L223 -1104Q374 -1175 487 -1276Q600 -1377 647 -1472L763 -1472Z" transform="translate(33.91,218.25) scale(0.00562,0.00590)" stroke="none"/><text transform="translate(40.31,218.25) scale(1,1.050)">.</text><text transform="translate(43.51,218.25) scale(1,1.050)">0</text>
</g>
<!-- axis labels -->
<g class="ser" fill="#111" font-family="Liberation Serif">
<text x="4" y="110.5" font-size="14" font-family="Liberation Serif">E<tspan font-size="10" dy="2.2">g</tspan></text>
<line x1="3" y1="116.5" x2="18.3" y2="116.5" stroke="#222" stroke-width="1"/>
<text transform="translate(5.4,128.5) scale(1.25,1)" font-size="14">Δ</text>
<text x="226.5" y="260.5" font-size="14" font-family="Liberation Serif">r<tspan font-size="10" dy="2.1">0</tspan></text>
</g>
</svg>
</body></html>
